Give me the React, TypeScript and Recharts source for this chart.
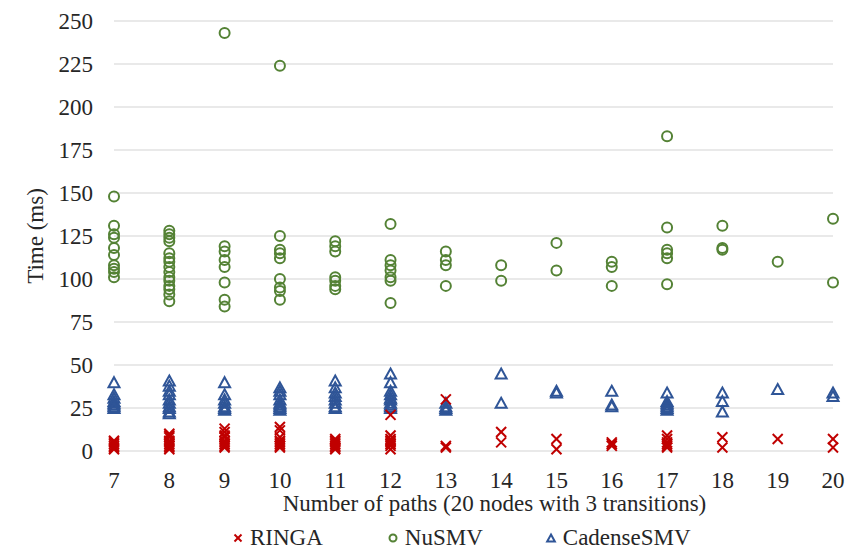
import { ScatterChart, Scatter, XAxis, YAxis, CartesianGrid, Legend, Label } from "recharts";

// number of paths on the x axis
const paths = [7, 8, 9, 10, 11, 12, 13, 14, 15, 16, 17, 18, 19, 20];
const timeTicks = [0, 25, 50, 75, 100, 125, 150, 175, 200, 225, 250];

// run times (ms), one list per path count
const ringaMs: number[][] = [
  [6, 5, 4, 3, 2, 1],
  [10, 9, 8, 6, 5, 4, 3, 2, 1],
  [13, 11, 9, 8, 6, 5, 4, 3, 2],
  [14, 12, 8, 6, 5, 4, 3, 2],
  [7, 6, 5, 4, 3, 2, 1],
  [21, 9, 7, 6, 5, 4, 3, 1],
  [30, 3, 2],
  [11, 5],
  [7, 1],
  [5, 4, 3],
  [9, 7, 5, 4, 3, 2],
  [8, 2],
  [7],
  [7, 2],
];

const nusmvMs: number[][] = [
  [148, 131, 126, 124, 118, 114, 108, 106, 104, 101],
  [128, 126, 124, 122, 115, 112, 110, 107, 104, 101, 99, 96, 94, 91, 87],
  [243, 119, 116, 111, 107, 98, 88, 84],
  [224, 125, 117, 115, 112, 100, 95, 93, 88],
  [122, 119, 116, 101, 99, 96, 94],
  [132, 111, 108, 105, 101, 99, 86],
  [116, 111, 108, 96],
  [108, 99],
  [121, 105],
  [110, 107, 96],
  [183, 130, 117, 115, 112, 97],
  [131, 118, 117],
  [110],
  [135, 98],
];

const cadenseMs: number[][] = [
  [40, 33, 31, 29, 28, 27, 26, 25],
  [41, 38, 35, 33, 30, 28, 26, 25, 23, 22],
  [40, 33, 30, 28, 26, 25, 24],
  [37, 35, 33, 30, 28, 27, 26, 25, 24],
  [41, 37, 34, 32, 30, 28, 26, 25],
  [45, 40, 35, 33, 31, 30, 28, 27, 26, 25],
  [28, 26, 25, 24],
  [45, 28],
  [35, 34],
  [35, 27, 26],
  [34, 29, 28, 27, 26, 25, 24],
  [34, 29, 23],
  [36],
  [34, 32],
];

const RED = "#c00000";
const GREEN = "#548235";
const BLUE = "#2f5597";
const FONT = '"Liberation Serif", "Times New Roman", serif';
const TEXT = "#262626";

const toPoints = (lists: number[][]) =>
  lists.flatMap((vals, i) => vals.map((ms) => ({ paths: paths[i], ms })));

const ringaData = toPoints(ringaMs);
const nusmvData = toPoints(nusmvMs);
const cadenseData = toPoints(cadenseMs);

const XMark = ({ cx, cy, s = 5 }: any) => (
  <g stroke={RED} strokeWidth={2} fill="none">
    <line x1={cx - s} y1={cy - s} x2={cx + s} y2={cy + s} />
    <line x1={cx - s} y1={cy + s} x2={cx + s} y2={cy - s} />
  </g>
);

const Ring = ({ cx, cy, r = 5 }: any) => (
  <circle cx={cx} cy={cy} r={r} fill="none" stroke={GREEN} strokeWidth={2} />
);

const Tri = ({ cx, cy, s = 5 }: any) => (
  <path
    d={`M${cx},${cy - s} L${cx + s * 1.1},${cy + s} L${cx - s * 1.1},${cy + s} Z`}
    fill="none"
    stroke={BLUE}
    strokeWidth={2}
  />
);

const legendItems = [
  { name: "RINGA", icon: <XMark cx={6} cy={8} s={3.5} />, gap: 64 },
  { name: "NuSMV", icon: <Ring cx={6} cy={8} r={3.5} />, gap: 62 },
  { name: "CadenseSMV", icon: <Tri cx={6} cy={8} s={3.5} />, gap: 0 },
];

function ChartLegend() {
  return (
    <div
      style={{
        height: 24,
        display: "flex",
        alignItems: "center",
        paddingLeft: 232,
        fontFamily: FONT,
        fontSize: 23,
        color: TEXT,
      }}
    >
      {legendItems.map((it) => (
        <div key={it.name} style={{ display: "flex", alignItems: "center", marginRight: it.gap }}>
          <svg width={12} height={16} style={{ marginRight: 6 }}>
            {it.icon}
          </svg>
          <span>{it.name}</span>
        </div>
      ))}
    </div>
  );
}

export default function App() {
  return (
    <div style={{ position: "absolute", left: 0, top: 0, width: 859, height: 550, background: "#fff" }}>
      <ScatterChart width={859} height={550} margin={{ top: 21, right: 26, left: 0, bottom: 0 }}>
        <CartesianGrid vertical={false} stroke="#e2e2e2" strokeWidth={1.5} />
        <XAxis
          type="number"
          dataKey="paths"
          domain={[7, 20]}
          ticks={paths}
          interval={0}
          axisLine={false}
          tickLine={false}
          tickMargin={15}
          height={75}
          tick={{ fontSize: 23, fontFamily: FONT, fill: TEXT }}
        >
          <Label
            value="Number of paths (20 nodes with 3 transitions)"
            position="insideBottom"
            offset={15}
            dx={21}
            style={{ fontSize: 23, fontFamily: FONT, fill: TEXT }}
          />
        </XAxis>
        <YAxis
          type="number"
          dataKey="ms"
          domain={[0, 250]}
          ticks={timeTicks}
          interval={0}
          axisLine={false}
          tickLine={false}
          tickMargin={15}
          width={114}
          tick={{ fontSize: 23, fontFamily: FONT, fill: TEXT }}
        >
          <Label
            value="Time (ms)"
            angle={-90}
            position="insideLeft"
            offset={35}
            style={{ fontSize: 23, fontFamily: FONT, fill: TEXT, textAnchor: "middle" }}
          />
        </YAxis>
        <Legend verticalAlign="bottom" content={() => <ChartLegend />} wrapperStyle={{ left: 0, width: 859 }} />
        <Scatter
          name="NuSMV"
          data={nusmvData}
          isAnimationActive={false}
          shape={(p: any) => <Ring cx={p.cx} cy={p.cy} />}
        />
        <Scatter
          name="CadenseSMV"
          data={cadenseData}
          isAnimationActive={false}
          shape={(p: any) => <Tri cx={p.cx} cy={p.cy} />}
        />
        <Scatter
          name="RINGA"
          data={ringaData}
          isAnimationActive={false}
          shape={(p: any) => <XMark cx={p.cx} cy={p.cy} />}
        />
      </ScatterChart>
    </div>
  );
}
